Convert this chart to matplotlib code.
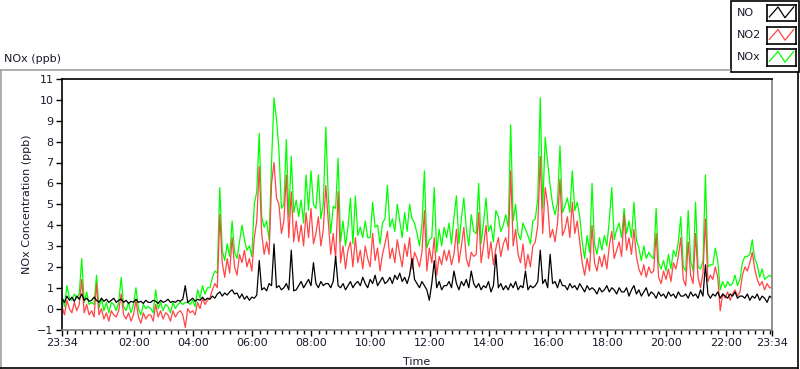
import datetime as dt
import matplotlib
matplotlib.use("Agg")
import matplotlib.pyplot as plt
import matplotlib.dates as mdates
from matplotlib.lines import Line2D
from matplotlib.patches import Rectangle

# 5-minute readings starting 23:34, one row per hour
start = dt.datetime(2020, 1, 1, 23, 34)
step_min = 5

no_ppb = [
    0.5, 0.3, 0.6, 0.4, 0.55, 0.35, 0.6, 0.45, 0.7, 0.4, 0.5, 0.35,
    0.4, 0.55, 0.4, 0.3, 0.5, 0.35, 0.45, 0.3, 0.4, 0.5, 0.3, 0.4,
    0.45, 0.3, 0.4, 0.25, 0.35, 0.3, 0.45, 0.3, 0.35, 0.25, 0.4, 0.3,
    0.3, 0.4, 0.35, 0.25, 0.4, 0.3, 0.35, 0.45, 0.3, 0.35, 0.3, 0.4,
    0.35, 0.45, 1.1, 0.3, 0.4, 0.5, 0.35, 0.45, 0.4, 0.55, 0.4, 0.5,
    0.45, 0.6, 0.5, 0.7, 0.8, 0.6, 0.75, 0.65, 0.8, 0.9, 0.7, 0.75,
    0.5, 0.7, 0.45, 0.6, 0.4, 0.55, 0.5, 0.65, 2.3, 0.9, 1.0, 0.85,
    1.2, 1.1, 3.1, 1.0, 1.1, 0.9, 1.0, 1.2, 0.9, 2.8, 0.85, 0.9,
    1.1, 1.3, 1.0, 1.2, 1.4, 1.1, 2.2, 1.2, 1.0, 1.3, 1.1, 1.2,
    1.2, 1.0, 1.3, 2.5, 1.1, 1.0, 1.2, 0.9, 1.1, 1.3, 1.0, 1.2,
    1.3, 1.1, 1.5, 1.2, 1.0, 1.4, 1.2, 1.6, 1.1, 1.3, 1.5, 1.2,
    1.3, 1.5, 1.2, 1.6, 1.4, 1.7, 1.3, 1.5, 1.2, 1.6, 2.4, 1.4,
    1.2, 1.0, 1.3, 1.1, 0.9, 0.4, 1.2, 2.3, 1.0, 1.3, 0.9, 1.1,
    1.1, 1.3, 1.0, 1.8, 1.2, 0.9, 1.3, 1.1, 1.4, 1.0, 1.8, 1.2,
    1.0, 1.2, 0.9, 1.1, 1.0, 1.3, 0.8, 1.1, 2.6, 1.0, 1.2, 0.9,
    1.1, 0.9, 1.2, 1.0, 1.3, 0.9, 1.1, 1.0, 1.8, 0.9, 1.1, 1.0,
    1.1, 1.3, 2.8, 1.2, 1.4, 1.0, 2.6, 1.2, 1.3, 1.0, 1.4, 1.1,
    1.1, 0.9, 1.2, 1.0, 1.1, 0.9, 1.2, 1.0, 0.8, 1.1, 0.9, 1.0,
    0.9, 0.7, 1.0, 0.8, 0.9, 1.1, 0.8, 1.0, 0.9, 0.7, 1.0, 0.8,
    0.8, 1.0, 0.6, 0.9, 1.1, 0.7, 0.9, 0.6, 0.8, 1.0, 0.6, 0.8,
    0.7, 0.5, 0.8, 0.6, 0.7, 0.5, 0.8, 0.6, 0.7, 0.5, 0.8, 0.6,
    0.6, 0.7, 0.5, 0.8, 0.6, 0.7, 0.5, 0.9, 0.6, 2.1, 0.7, 0.5,
    0.7, 0.6, 0.8, 0.5, 0.7, 0.6, 0.5, 0.7, 0.6, 0.8, 0.5, 0.6,
    0.6, 0.5, 0.7, 0.4, 0.6, 0.5, 0.7, 0.4, 0.6, 0.5, 0.3, 0.6,
    0.5,
]

no2_ppb = [
    0.1, -0.3, 0.4, 0.0, -0.2, 0.3, -0.1, 0.2, 1.4, -0.2, 0.2, -0.3,
    -0.1, -0.4, 1.2, -0.3, 0.0, -0.5, -0.2, -0.6, -0.1, -0.3, -0.4, -0.1,
    0.7, -0.3, -0.5, -0.2, -0.6, -0.3, 0.4, -0.4, -0.7, -0.2, -0.5, -0.3,
    -0.3, -0.6, 0.2, -0.4, -0.1, -0.5, -0.2, -0.3, -0.6, -0.1, -0.4, -0.2,
    -0.1, -0.3, -0.9, 0.0, -0.2, -0.1, -0.3, 0.3, 0.0, 0.5, 0.2, 0.4,
    0.5, 0.9, 1.2, 1.0, 4.5, 2.2, 1.5, 2.4, 1.7, 3.4, 2.0, 1.6,
    2.6, 2.2, 2.8, 2.0, 2.4, 1.8, 3.4, 4.2, 6.8, 3.6, 2.6, 3.2,
    2.6, 6.0, 7.0, 5.3, 5.0, 3.6, 4.2, 6.4, 3.4, 5.6, 3.2, 4.2,
    3.2, 4.0, 3.0, 4.6, 3.4, 4.8, 3.1, 3.6, 4.4, 3.0, 3.8, 5.9,
    4.2, 2.6, 3.6, 2.4, 5.6, 2.2, 3.0, 1.9, 2.8, 3.2, 2.0, 3.4,
    2.2, 2.8, 1.9, 3.0, 2.4, 2.0, 3.6, 2.3, 2.9, 1.8, 2.6, 3.1,
    3.7, 2.4, 2.9, 2.2, 3.3, 2.6, 2.0, 3.1, 2.5, 3.4, 1.9, 2.7,
    2.4, 2.0, 2.7, 4.7, 1.8, 2.9, 2.2, 3.4, 1.6, 2.5, 2.1, 2.8,
    2.3, 2.8, 2.1, 2.6, 3.8, 2.2, 3.0, 3.9, 2.4, 2.0, 2.7, 2.5,
    2.6, 4.6, 2.2, 3.0, 4.0, 2.4, 3.2, 2.1, 2.9, 3.4, 2.5, 3.1,
    3.4, 2.8, 6.6, 3.0, 3.8, 2.6, 2.2, 3.1, 1.9, 2.6, 2.0, 3.0,
    3.2, 4.0, 7.3, 3.6, 5.8, 5.0, 3.4, 3.8, 3.2, 4.1, 6.2, 3.5,
    3.8, 4.4, 3.4, 5.1, 3.6, 4.2, 3.2, 2.2, 1.6, 2.4, 1.8, 4.0,
    2.2, 1.8, 2.5, 2.0, 2.6, 1.9, 3.0, 3.7, 2.4, 2.8, 3.2, 2.5,
    4.5, 2.8, 3.4, 2.6, 3.8, 2.5, 1.9, 1.6, 2.1, 1.5, 2.0, 1.7,
    1.8, 3.6, 1.5, 1.2, 1.8, 1.4, 1.9, 1.3, 2.2, 1.9, 2.5, 3.4,
    1.4, 1.1, 3.2, 1.6, 1.2, 3.6, 1.5, 1.0, 1.7, 4.3, 1.3, 1.6,
    1.4, 2.0, 1.5, -0.1, 0.7, 0.5, 0.8, 0.4, 0.7, 0.9, 0.6, 0.8,
    1.6, 2.0, 1.8, 2.2, 2.7, 1.9, 1.4, 1.1, 1.3, 0.9, 1.2, 1.0,
    1.0,
]

nox_ppb = [
    0.6, 0.1, 1.1, 0.5, 0.4, 0.7, 0.5, 0.7, 2.4, 0.3, 0.8, 0.2,
    0.3, 0.2, 1.6, 0.0, 0.5, -0.1, 0.3, -0.2, 0.3, 0.2, -0.1, 0.3,
    1.5, 0.1, -0.1, 0.3, -0.2, 0.2, 1.0, 0.0, -0.3, 0.2, 0.0, 0.1,
    0.0, -0.2, 0.9, 0.0, 0.3, -0.1, 0.2, 0.1, -0.2, 0.3, 0.0, 0.2,
    0.3, 0.2, 0.3, 0.3, 0.2, 0.4, 0.1, 0.9, 0.5, 1.1, 0.7, 1.0,
    1.0, 1.5, 1.8, 1.7, 5.8, 2.8, 2.3, 3.1, 2.5, 4.2, 2.7, 2.4,
    3.2, 4.0, 3.3, 2.8, 3.0, 2.5, 5.0, 5.6, 8.4, 4.4, 3.9, 4.2,
    3.3, 7.0, 10.1, 9.1, 7.6, 4.8, 5.0, 8.1, 4.4, 7.3, 4.6, 5.2,
    4.4, 5.2, 4.1, 6.4, 4.7, 6.6, 5.0, 4.8, 6.4, 4.3, 5.0, 8.7,
    5.4, 3.6, 4.9, 4.8, 7.2, 3.2, 4.2, 3.0, 3.9, 5.3, 3.1, 5.4,
    3.5, 3.9, 3.4, 4.2, 3.4, 3.4, 5.1, 3.9, 4.0, 3.1, 4.1, 4.3,
    5.9, 3.9, 4.3, 3.7, 5.0, 4.2, 3.4, 4.6, 3.7, 5.0, 4.3, 4.1,
    3.6, 3.0, 4.0, 6.6, 2.9, 3.3, 3.4, 5.8, 2.7, 3.8, 3.0, 3.9,
    3.4, 4.1, 3.1, 4.4, 5.4, 3.1, 4.3, 5.3, 3.8, 3.0, 4.5, 3.7,
    3.6, 6.0, 3.1, 4.1, 5.3, 3.7, 4.0, 3.2, 4.7, 4.4, 3.7, 4.0,
    4.5, 3.9, 8.8, 4.2, 5.0, 3.6, 3.3, 4.1, 3.8, 3.5, 3.1, 4.2,
    4.3, 5.3, 10.1, 4.8, 8.2, 7.0, 5.9, 5.0, 4.5, 5.1, 7.8, 4.6,
    4.9, 5.3, 4.6, 6.6, 4.7, 5.1, 4.4, 3.2, 2.4, 3.5, 2.7, 6.0,
    3.1, 2.6, 3.4, 2.8, 3.5, 3.0, 4.2, 5.8, 3.3, 3.8, 4.1, 3.4,
    4.8, 3.6, 4.2, 3.4, 5.1, 3.3, 2.9, 2.3, 3.0, 2.4, 2.7, 2.5,
    2.4, 4.8, 2.2, 1.9, 2.3, 1.8, 2.6, 1.9, 2.8, 2.5, 3.2, 4.4,
    2.0, 1.8, 4.7, 2.3, 1.8, 5.1, 2.0, 1.9, 2.3, 6.4, 2.0, 2.1,
    2.1, 2.9, 2.3, 0.9, 1.3, 1.0, 1.3, 1.1, 1.2, 1.6, 1.1, 1.4,
    2.2, 2.5, 2.5, 2.6, 3.3, 2.4, 2.1, 1.5, 1.9, 1.4, 1.5, 1.6,
    1.5,
]

tick_labels = ["23:34", "02:00", "04:00", "06:00", "08:00", "10:00", "12:00",
               "14:00", "16:00", "18:00", "20:00", "22:00", "23:34"]

times = [start + dt.timedelta(minutes=step_min * i) for i in range(len(no_ppb))]
end = times[-1]

# tick positions: first/last are the chart ends, others on the next day
day2 = start.date() + dt.timedelta(days=1)
tick_pos = [start]
for lab in tick_labels[1:-1]:
    h, m = map(int, lab.split(":"))
    tick_pos.append(dt.datetime.combine(day2, dt.time(h, m)))
tick_pos.append(end)

plt.rcParams["font.family"] = ["DejaVu Sans"]
txt = "#1a1a2e"

W, H = 800, 369
fig = plt.figure(figsize=(W / 100, H / 100), dpi=100)

ax = fig.add_axes([62 / W, 1 - 329.5 / H, 710 / W, 250.5 / H])
ax.plot(times, nox_ppb, color="#00ff00", lw=0.9)
ax.plot(times, no2_ppb, color="#ff4545", lw=0.9)
ax.plot(times, no_ppb, color="black", lw=0.9)

ax.set_xlim(start, end)
ax.set_ylim(-1, 11)
ax.set_yticks(range(-1, 12))
ax.set_xticks(tick_pos)
ax.set_xticklabels(tick_labels)
ax.xaxis.set_minor_locator(mdates.MinuteLocator(byminute=[0, 15, 30, 45]))
ax.tick_params(axis="both", which="major", length=4, width=1, labelsize=8,
               labelcolor=txt, pad=2)
ax.tick_params(axis="x", which="minor", length=3, width=1)

for side in ["left", "top"]:
    ax.spines[side].set_color("black")
    ax.spines[side].set_linewidth(1.2)
for side in ["right", "bottom"]:
    ax.spines[side].set_color("#808080")
    ax.spines[side].set_linewidth(1.2)

ax.set_ylabel("NOx Concentration (ppb)", fontsize=8, color=txt)
ax.yaxis.set_label_coords(-30 / 710, 0.5)
ax.set_xlabel("Time", fontsize=8, color=txt)
ax.xaxis.set_label_coords(0.5, -(362 - 329.5) / 250.5)
ax.xaxis.label.set_va("center")

fig.text(4 / W, 1 - 59 / H, "NOx (ppb)", fontsize=8, color=txt, va="center")

# outer panel frame
fig.add_artist(Line2D([0.5 / W, 730 / W], [1 - 69.5 / H] * 2, color="#a0a0a0", lw=1.2))
fig.add_artist(Line2D([0.5 / W] * 2, [1 - 69.5 / H, 1 - 367.5 / H], color="#a0a0a0", lw=1.2))
fig.add_artist(Line2D([0, 797.5 / W], [1 - 367.5 / H] * 2, color="black", lw=1.2))
fig.add_artist(Line2D([797.5 / W] * 2, [1 - 72 / H, 1 - 367.5 / H], color="black", lw=1.2))

# legend box
box = Rectangle((730.5 / W, 1 - 72 / H), 68 / W, 71.5 / H, transform=fig.transFigure,
                facecolor="white", edgecolor="black", lw=1.2, zorder=-1)
fig.add_artist(box)
legend_items = [("NO", "black", 12.5), ("NO2", "#ff4545", 35), ("NOx", "#00ff00", 57)]
for name, col, yc in legend_items:
    fig.text(737 / W, 1 - yc / H, name, fontsize=8, color=txt, va="center")
    sw = fig.add_axes([767 / W, 1 - (yc + 8.5) / H, 29 / W, 16.5 / H])
    sw.set_zorder(5)
    sw.plot([0.08, 0.38, 0.62, 0.92], [0.25, 0.85, 0.2, 0.85], color=col, lw=0.9)
    sw.set_xlim(0, 1)
    sw.set_ylim(0, 1)
    sw.set_xticks([])
    sw.set_yticks([])
    for s in sw.spines.values():
        s.set_color("black")
        s.set_linewidth(1.2)

fig.savefig("out.png", dpi=100)
